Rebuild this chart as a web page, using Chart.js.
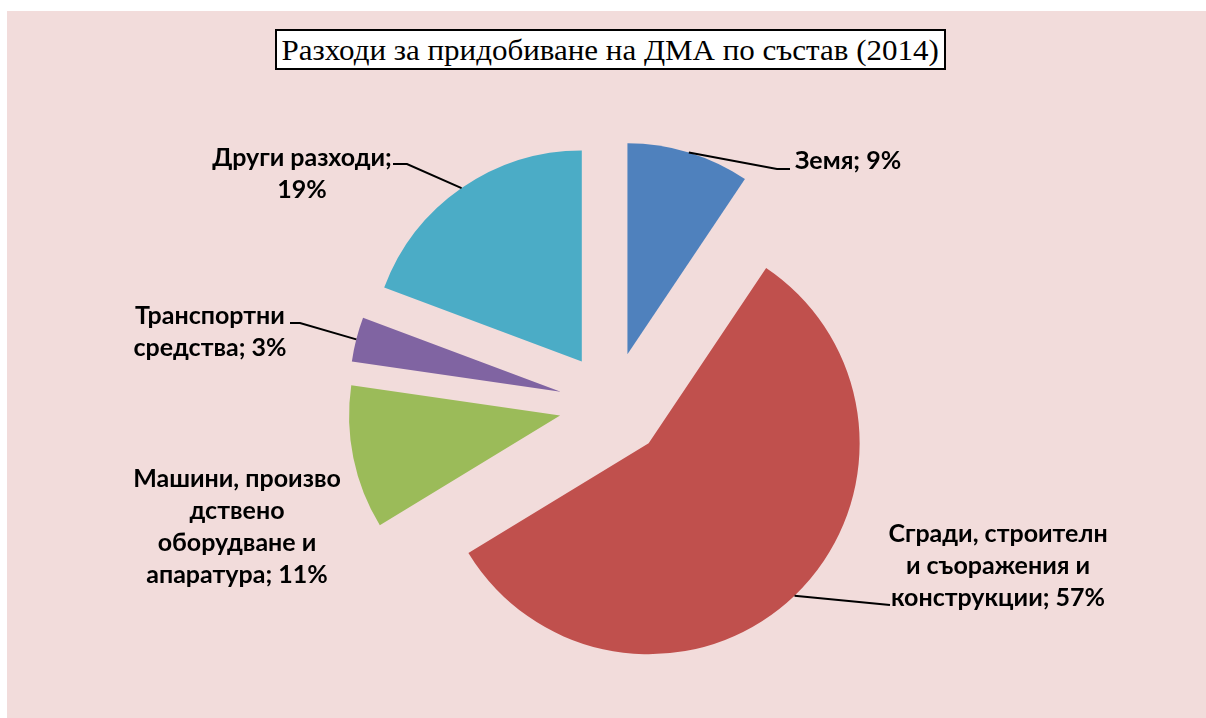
<!DOCTYPE html>
<html>
<head>
<meta charset="utf-8">
<script src="https://cdn.jsdelivr.net/npm/chart.js@4/dist/chart.umd.min.js"></script>
<style>
  body { margin: 0; background: #fff; }
  #bg { position: absolute; left: 7px; top: 11px; width: 1199px; height: 707px; background: #f2dcdb; }
  #chart { position: absolute; left: 0; top: 0; }
  #title {
    position: absolute; left: 275px; top: 29px; width: 667px; height: 37px;
    border: 2px solid #000; background: #fff;
    font-family: "Liberation Serif", "DejaVu Serif", serif; font-size: 30px;
    line-height: 37px; text-align: center; white-space: nowrap; overflow: hidden;
  }
  #title span { display: inline-block; transform-origin: center; }
</style>
</head>
<body>
<div id="bg"></div>
<canvas id="chart" width="1206" height="718"></canvas>
<div id="title"><span id="title-text">Разходи за придобиване на ДМА по състав (2014)</span></div>
<script>
// data
const categories = ['Земя', 'Сгради, строителни съоражения и конструкции', 'Машини, производствено оборудване и апаратура', 'Транспортни средства', 'Други разходи'];
const shares = [9.4, 56.9, 11.0, 3.4, 19.3];
const shownPct = [9, 57, 11, 3, 19];
const colors = ['#4f81bd', '#c0504d', '#9bbb59', '#8064a2', '#4bacc6'];

// squeeze title to the box
const titleText = document.getElementById('title-text');
titleText.style.transform = 'scaleX(' + (657 / titleText.offsetWidth) + ')';

const explodePx = 53;

// label placement (Excel put them by hand)
const labelLayout = [
    { x: 795, base: 169, align: 'left', breaks: [], leader: [[777, 169], [790, 169]] },
    { x: 998, base: 542, align: 'center', breaks: [17, 31], leader: [[890, 605]] },
    { x: 237, base: 487, align: 'center', breaks: [15, 22, 35], leader: null },
    { x: 210, base: 324, align: 'center', breaks: [11], leader: [[300, 323], [290, 323]] },
    { x: 302, base: 166, align: 'center', breaks: [14], leader: [[407, 164], [393, 164]] }
];
const lineHeight = 32;

function splitLabel(text, breaks) {
    const out = [];
    let prev = 0;
    breaks.forEach(b => { out.push(text.slice(prev, b).trim()); prev = b; });
    out.push(text.slice(prev).trim());
    return out;
}

// draw each slice pushed out along its middle angle
const explode = {
    id: 'explode',
    beforeDatasetDraw(chart, args) {
        const ctx = chart.ctx;
        args.meta.data.forEach(arc => {
            const mid = (arc.startAngle + arc.endAngle) / 2;
            ctx.save();
            ctx.translate(Math.cos(mid) * explodePx, Math.sin(mid) * explodePx);
            arc.draw(ctx);
            ctx.restore();
        });
        return false;
    }
};

const dataLabels = {
    id: 'dataLabels',
    afterDatasetsDraw(chart) {
        const ctx = chart.ctx;
        const arcs = chart.getDatasetMeta(0).data;
        ctx.save();
        ctx.strokeStyle = '#000';
        ctx.lineWidth = 2;
        ctx.fillStyle = '#000';
        ctx.font = 'bold 25px Lato, "Open Sans", sans-serif';
        arcs.forEach((arc, i) => {
            const lay = labelLayout[i];
            if (lay.leader) {
                const mid = (arc.startAngle + arc.endAngle) / 2;
                const r = arc.outerRadius + explodePx;
                ctx.beginPath();
                ctx.moveTo(arc.x + Math.cos(mid) * r, arc.y + Math.sin(mid) * r);
                lay.leader.forEach(p => ctx.lineTo(p[0], p[1]));
                ctx.stroke();
            }
            const lines = splitLabel(categories[i] + '; ' + shownPct[i] + '%', lay.breaks);
            ctx.textAlign = lay.align;
            ctx.textBaseline = 'alphabetic';
            lines.forEach((t, k) => ctx.fillText(t, lay.x, lay.base + k * lineHeight));
        });
        ctx.restore();
    }
};

new Chart(document.getElementById('chart'), {
    type: 'pie',
    data: {
        labels: categories,
        datasets: [{
            data: shares,
            backgroundColor: colors,
            borderWidth: 0,
            clip: false
        }]
    },
    options: {
        responsive: false,
        animation: false,
        devicePixelRatio: 1,
        layout: {
            padding: { top: 194, bottom: 102, left: 312, right: 294 }
        },
        plugins: {
            legend: { display: false },
            tooltip: { enabled: false },
            title: { display: false }
        }
    },
    plugins: [explode, dataLabels]
});
</script>
</body>
</html>
